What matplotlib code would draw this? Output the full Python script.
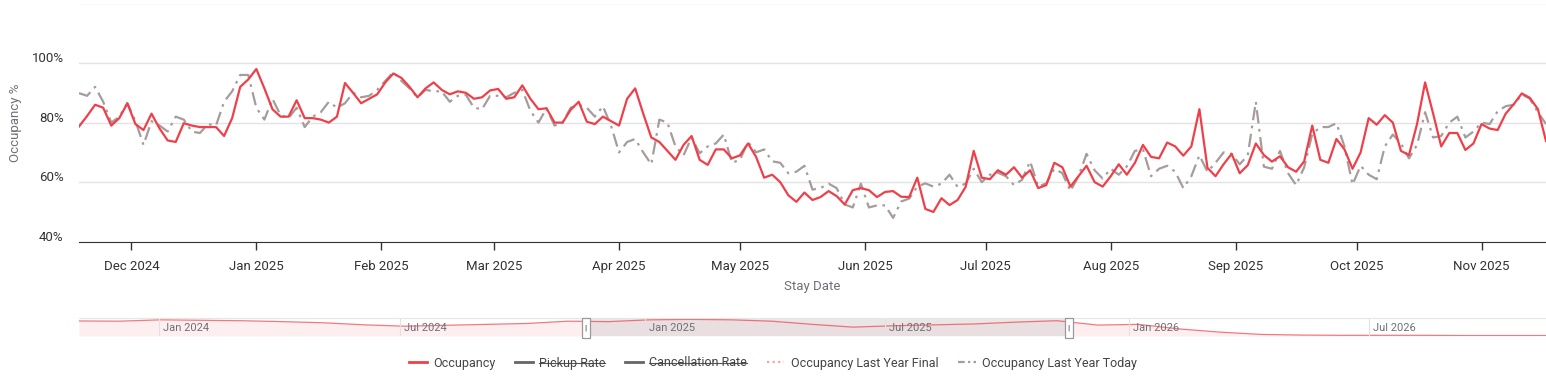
import matplotlib
matplotlib.use("Agg")
import matplotlib.pyplot as plt
import matplotlib.dates as mdates
import matplotlib.transforms as mtransforms
from matplotlib.lines import Line2D
import pandas as pd

plt.rcParams["font.family"] = ["Roboto", "DejaVu Sans"]

# stay dates, every second day
stay_dates = pd.date_range("2024-11-18", periods=183, freq="2D")

occupancy = [
    78.7, 82.2, 86, 85, 79, 81.5, 86.5, 79.5, 77.5, 83, 78, 74, 73.5, 79.8, 79, 78.5, 78.5, 78.5, 75.5,
    81.5, 92, 94.5, 98, 91.5, 84.5, 82, 82, 87.5, 81.5, 81.5, 81, 80, 82, 93.3, 90, 86.5, 88,
    89.5, 93.5, 96.5, 95, 92, 88.5, 91.5, 93.5, 91, 89.5, 90.5, 90, 88, 88.5, 90.8, 91.3, 88, 88.5,
    92.5, 88, 84.5, 84.8, 80, 80, 84.3, 87, 80.3, 79.5, 82, 80.5, 79, 88, 91.5, 83, 75, 73.5,
    70.5, 67.5, 72.5, 75.5, 67.5, 65.8, 71, 71, 68, 69, 73, 68.5, 61.5, 62.5, 60, 55.6, 53.4, 56.5,
    54, 55, 57, 55.3, 52.5, 57.3, 58, 57.3, 55, 56.7, 57, 55.1, 55, 61.5, 51, 50, 54.6, 52.3,
    54, 58.4, 70.5, 61.5, 61, 64, 62.5, 65, 61.5, 64, 58, 59, 66.5, 65, 58.5, 62, 65.5, 60, 58.5,
    62, 66, 62.5, 66.5, 72.5, 68.5, 68, 73.3, 72, 68.9, 72, 84.5, 64.8, 62, 66, 69.5, 63, 65.7,
    73, 69.1, 66.9, 68.7, 65, 63.5, 67, 79, 67.5, 66.5, 74.5, 71, 64.5, 70, 81.5, 79.3, 82.5, 80,
    70.5, 69.1, 79.5, 93.5, 83, 72, 76.5, 76.5, 70.8, 73, 79.5, 78, 77.5, 83, 86.2, 89.8, 88.3, 84.5, 73.8,
]

occupancy_ly_today = [
    89.9, 89, 92, 87, 80, 82, 86.5, 80.5, 72.5, 80.5, 79, 77, 82, 81, 77, 76.5, 79.5, 79, 87,
    90.5, 96, 96, 85, 81, 88, 82.5, 81.5, 85, 78.5, 82, 83.5, 87, 85, 86.5, 90, 88.5, 89,
    91, 94, 97, 94, 91.5, 88.5, 91, 90.5, 90.5, 87, 89, 89.3, 85, 84.5, 89, 89, 88.5, 90,
    91, 84, 80, 84.8, 79, 80, 85, 86, 85, 82, 85.5, 79, 70, 73.5, 74.5, 70, 66, 81,
    80, 72, 69, 75, 69.7, 72, 73, 76, 66.5, 67.5, 73.5, 70, 71, 67, 66.5, 63, 63.5, 65.5,
    57.5, 58, 59.5, 58, 52.5, 51.5, 59.5, 51.5, 52.2, 52.2, 48, 53.5, 54.5, 58.5, 59.6, 58.5, 59.5, 62.5,
    58.4, 59.5, 64.5, 60, 62.5, 63.2, 62, 59, 60.8, 67, 58.5, 59.6, 64.5, 63, 57, 62, 69.5, 64, 61.2,
    64.5, 62.5, 65.3, 70.5, 71, 62, 64.5, 65.5, 63.5, 58, 62, 69, 63.5, 66.5, 70, 69.5, 66, 69,
    87, 65.2, 64.5, 70.5, 63, 59, 65, 76.2, 78.5, 78.5, 79.8, 72, 59.2, 65.5, 62.5, 61, 72, 76,
    73, 68, 72.5, 83.5, 75, 75.5, 80, 82, 75, 77, 80, 79.5, 83.8, 85.5, 86, 89.5, 88, 83.5, 79.5,
]

# overview for the zoom slider (roughly monthly)
overview_dates = pd.date_range("2023-11-02", "2026-11-11", periods=37)
overview_occ = [
    83, 82, 88, 86, 84, 80, 75, 66, 60, 64, 68, 72,
    82, 80, 88, 90, 88, 82, 68, 56, 62, 66, 70, 78,
    84, 65, 68, 48, 34, 24, 21, 20, 20, 20, 19, 19, 19,
]
overview_labels = ["Jan 2024", "Jul 2024", "Jan 2025", "Jul 2025", "Jan 2026", "Jul 2026"]

RED = "#EF404A"
GREY = "#A69C9C"
TXT = "#6E7079"

fig = plt.figure(figsize=(15.46, 3.76), dpi=100)
W, H = 1546, 376

ax = fig.add_axes([79 / W, 1 - 241.7 / H, (W - 79) / W, (241.7 - 3.5) / H])
ax.plot(stay_dates, occupancy, color=RED, lw=1.6, zorder=3)
ax.plot(stay_dates, occupancy_ly_today, color=GREY, lw=1.6, dashes=(6, 2.5, 1.2, 2.5), zorder=2)

ax.set_xlim(stay_dates[0], stay_dates[-1])
ax.set_ylim(40, 120)
ax.set_yticks([40, 60, 80, 100, 120], ["40%", "60%", "80%", "100%", ""])
ax.yaxis.grid(True, color="#E3E3E3", lw=1)
ax.set_axisbelow(True)
ax.xaxis.set_major_locator(mdates.MonthLocator())
ax.xaxis.set_major_formatter(mdates.DateFormatter("%b %Y"))
for s in ["top", "right", "left"]:
    ax.spines[s].set_visible(False)
ax.spines["bottom"].set_color("#333333")
ax.tick_params(axis="y", length=0, pad=11, labelsize=9.5, labelcolor="#333333")
ax.tick_params(axis="x", length=6, width=1, color="#333333", pad=7.5, labelsize=9.5, labelcolor="#333333")
# y labels sit a little above their grid line
shift = mtransforms.ScaledTranslation(0, 6 / 100, fig.dpi_scale_trans)
for lab in ax.get_yticklabels():
    lab.set_transform(lab.get_transform() + shift)
ax.set_ylabel("Occupancy %", color=TXT, fontsize=9.5, labelpad=7)
ax.set_xlabel("Stay Date", color=TXT, fontsize=9.5, labelpad=5)

# data zoom slider
ax2 = fig.add_axes([79 / W, 1 - 336 / H, (W - 79) / W, 18 / H])
ax2.plot(overview_dates, overview_occ, color=RED, lw=0.9, alpha=0.7)
ymin = min(overview_occ) - 2
ax2.fill_between(overview_dates, overview_occ, ymin, color="#FDEFF0", lw=0)
ax2.set_xlim(overview_dates[0], overview_dates[-1])
ax2.set_ylim(ymin, max(overview_occ) + 6)
ax2.axvspan(stay_dates[0], stay_dates[-1], color="#D9D2D3", alpha=0.55, lw=0)
for lab in overview_labels:
    d = pd.to_datetime(lab, format="%b %Y")
    ax2.axvline(d, color="#E2E2E2", lw=0.8)
    ax2.text(d + pd.Timedelta(days=3), 0.45, lab, transform=ax2.get_xaxis_transform(),
             color=TXT, fontsize=8, va="center", ha="left")
trans = mtransforms.blended_transform_factory(ax2.transData, ax2.transAxes)
handle_shape = [(-1, -2.5), (1, -2.5), (1, 2.5), (-1, 2.5), (-1, -2.5)]
for d in [stay_dates[0], stay_dates[-1]]:
    ax2.plot([d], [0.45], transform=trans, marker=handle_shape, ms=14, mfc="white",
             mec="#9A9A9A", mew=0.9, clip_on=False, zorder=5)
    ax2.text(d, 0.45, "||", transform=trans, fontsize=5, color="#777777",
             ha="center", va="center", zorder=6)
ax2.set_xticks([])
ax2.set_yticks([])
for s in ["bottom", "right", "left"]:
    ax2.spines[s].set_visible(False)
ax2.spines["top"].set_color("#E6E6E6")

# legend
handles = [
    Line2D([], [], color=RED, lw=2),
    Line2D([], [], color="#666666", lw=2),
    Line2D([], [], color="#666666", lw=2),
    Line2D([], [], color="#F5A3A8", lw=1.6, ls=(0, (1, 1.5))),
    Line2D([], [], color=GREY, lw=1.6, dashes=(3, 1.5, 1, 1.5)),
]
names = ["Occupancy", "Pickup Rate", "Cancellation Rate", "Occupancy Last Year Final",
         "Occupancy Last Year Today"]
leg = fig.legend(handles, names, loc="center", bbox_to_anchor=(0.5, 1 - 363 / H), ncol=5,
                 frameon=False, fontsize=9, handlelength=1.4, handletextpad=0.5, columnspacing=1.6)
for t in leg.get_texts():
    t.set_color("#444444")

fig.canvas.draw()
r = fig.canvas.get_renderer()
for t in leg.get_texts()[1:3]:
    bb = t.get_window_extent(r)
    ym = (bb.y0 + bb.y1) / 2 / H
    fig.add_artist(Line2D([bb.x0 / W, bb.x1 / W], [ym, ym], transform=fig.transFigure,
                          color="#555555", lw=0.8))

fig.savefig("out.png", dpi=100)
